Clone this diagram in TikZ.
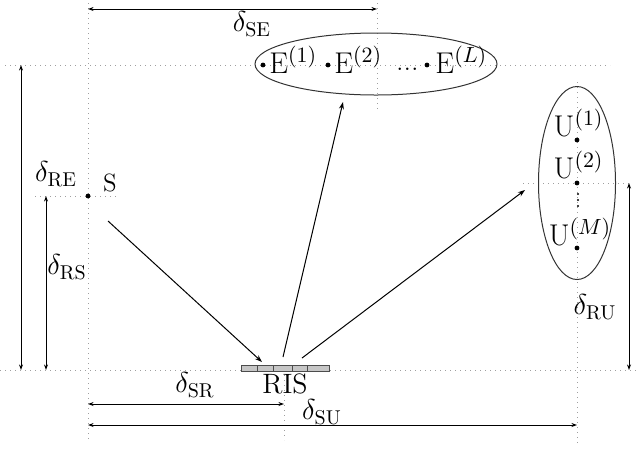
\documentclass[tikz,border=0pt]{standalone}
\usetikzlibrary{arrows.meta,shapes.geometric}
\begin{document}
\begin{tikzpicture}[x=0.5pt,y=-0.5pt,
  guide/.style={gray!75, dotted, line width=0.5pt},
  dimline/.style={{Stealth[length=2.8pt,width=2pt]}-{Stealth[length=2.8pt,width=2pt]}, line width=0.45pt},
  link/.style={-{Stealth[length=3.6pt,width=2.5pt]}, line width=0.5pt},
  lab/.style={font=\fontsize{14}{16}\selectfont, inner sep=0pt},
  biglab/.style={font=\fontsize{15}{17}\selectfont, inner sep=0pt},
  pt/.style={circle, fill=black, inner sep=0pt, minimum size=2.4pt},
  tinypt/.style={circle, fill=black, inner sep=0pt, minimum size=1.2pt},
  group/.style={draw=black!80, ellipse, line width=0.5pt, inner sep=0pt}]
\useasboundingbox (0,0) rectangle (640,451);

% guide lines
\draw[guide] (5,65) -- (610,65);
\draw[guide] (0,370) -- (640,370);
\draw[guide] (35,196) -- (118,196);
\draw[guide] (523,183) -- (632,183);
\draw[guide] (88,3) -- (88,440);
\draw[guide] (377,3) -- (377,110);
\draw[guide] (284,370) -- (284,440);
\draw[guide] (577,82) -- (577,445);

% groups
\node[group, minimum width=121pt, minimum height=31pt] (Egroup) at (376,64) {};
\node[group, minimum width=38.5pt, minimum height=96.5pt] (Ugroup) at (577,183) {};

% source
\node[pt] (s) at (88,196) {};
\node[font=\fontsize{12.5}{14}\selectfont, inner sep=0pt] (slab) at (110,183) {S};

% eavesdroppers
\node[pt] (e1) at (263,65) {};
\node[pt] (e2) at (328,65) {};
\node[pt] (eL) at (427,65) {};
\node[biglab, anchor=base west] (E1) at ([xshift=3pt,yshift=-4pt]e1) {E$^{(1)}$};
\node[biglab, anchor=base west] (E2) at ([xshift=3pt,yshift=-4pt]e2) {E$^{(2)}$};
\node[biglab, anchor=base east] (Edots) at ([xshift=-4pt,yshift=-2.5pt]eL) {...};
\node[biglab, anchor=base west] (EL) at ([xshift=4pt,yshift=-4pt]eL) {E$^{(L)}$};

% users
\node[pt] (u1) at (577,140) {};
\node[pt] (u2) at (577,183) {};
\node[pt] (uM) at (577,248) {};
\node[biglab, anchor=base] (U1) at ([xshift=0.8pt,yshift=1.8pt]u1) {U$^{(1)}$};
\node[biglab, anchor=base] (U2) at ([xshift=0.8pt,yshift=2.5pt]u2) {U$^{(2)}$};
\node[biglab, anchor=base] (UM) at ([xshift=1.5pt,yshift=1.5pt]uM) {U$^{(M)}$};
\node[tinypt] (ud1) at (578,194) {};
\node[tinypt] (ud2) at (578,200) {};
\node[tinypt] (ud3) at (578,206) {};

% RIS
\node[draw=black!70, fill=gray!45, line width=0.4pt, minimum width=44pt, minimum height=3pt, inner sep=0pt] (risbar) at (285,368) {};
\foreach \xx in {257,273,292,307} \draw[black!70, line width=0.4pt] (\xx,365) -- (\xx,371);
\node[lab] (ris) at (285,384) {RIS};

% links
\coordinate (s0) at (108,221);
\coordinate (r1) at (262,362);
\coordinate (r2) at (283,357);
\coordinate (e0) at (343,102);
\coordinate (r3) at (302,358);
\coordinate (u0) at (525,190);
\draw[link] (s0) -- (r1);
\draw[link] (r2) -- (e0);
\draw[link] (r3) -- (u0);

% dimensions
\coordinate (se1) at (88,9);  \coordinate (se2) at (377,9);
\draw[dimline] (se1) -- (se2);
\node[lab] (dSE) at (252,24) {$\delta_{\mathrm{SE}}$};

\coordinate (re1) at (21,65); \coordinate (re2) at (21,370);
\draw[dimline] (re1) -- (re2);
\node[lab] (dRE) at (56,174) {$\delta_{\mathrm{RE}}$};

\coordinate (rs1) at (46,196); \coordinate (rs2) at (46,370);
\draw[dimline] (rs1) -- (rs2);
\node[lab] (dRS) at (67,267) {$\delta_{\mathrm{RS}}$};

\coordinate (ru1) at (629,183); \coordinate (ru2) at (629,370);
\draw[dimline] (ru1) -- (ru2);
\node[lab] (dRU) at (595,307) {$\delta_{\mathrm{RU}}$};

\coordinate (sr1) at (88,404); \coordinate (sr2) at (284,404);
\draw[dimline] (sr1) -- (sr2);
\node[lab] (dSR) at (195,385) {$\delta_{\mathrm{SR}}$};

\coordinate (su1) at (88,425); \coordinate (su2) at (577,425);
\draw[dimline] (su1) -- (su2);
\node[lab] (dSU) at (322,412) {$\delta_{\mathrm{SU}}$};
\end{tikzpicture}
\end{document}
